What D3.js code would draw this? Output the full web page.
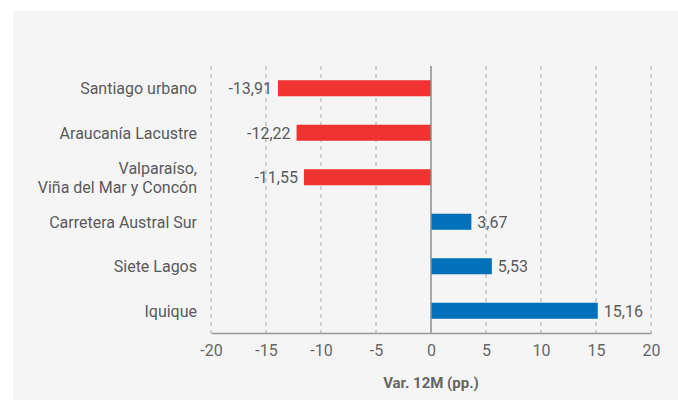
<!DOCTYPE html>
<html>
<head>
<meta charset="utf-8">
<script src="https://cdn.jsdelivr.net/npm/d3@7"></script>
<style>
  html, body { margin: 0; padding: 0; background: #ffffff; }
  svg { display: block; }
  text { font-family: Roboto, "Open Sans", sans-serif; }
</style>
</head>
<body>
<div id="chart"></div>
<script>
const categories = ["Santiago urbano", "Araucanía Lacustre", "Valparaíso,\nViña del Mar y Concón", "Carretera Austral Sur", "Siete Lagos", "Iquique"];
const values = [-13.91, -12.22, -11.55, 3.67, 5.53, 15.16];
const xTicks = [-20, -15, -10, -5, 0, 5, 10, 15, 20];
const axisTitle = "Var. 12M (pp.)";

const W = 678, H = 400;
const margin = { left: 211, right: 27, top: 66, bottom: 67 };

const svg = d3.select("#chart").append("svg").attr("width", W).attr("height", H);

svg.append("rect").attr("x", 13).attr("y", 11).attr("width", W - 13).attr("height", H - 11).attr("fill", "#f5f5f5");

const x = d3.scaleLinear().domain([-20, 20]).range([margin.left, W - margin.right]);
const y = d3.scaleBand().domain(categories).range([margin.top, H - margin.bottom]).paddingInner(0.64).paddingOuter(0.32);

// gridlines
svg.append("g").selectAll("line").data(xTicks.filter(d => d !== 0)).join("line")
  .attr("x1", d => x(d)).attr("x2", d => x(d))
  .attr("y1", margin.top).attr("y2", H - margin.bottom)
  .attr("stroke", "#a8a8a8").attr("stroke-width", 1).attr("stroke-dasharray", "4,4");

// bars
svg.append("g").selectAll("rect").data(values).join("rect")
  .attr("x", d => x(Math.min(0, d)))
  .attr("width", d => Math.abs(x(d) - x(0)))
  .attr("y", (d, i) => y(categories[i]))
  .attr("height", y.bandwidth())
  .attr("fill", d => d < 0 ? "#ee3330" : "#0070ba");

// zero line
svg.append("line").attr("x1", x(0)).attr("x2", x(0)).attr("y1", margin.top).attr("y2", H - margin.bottom)
  .attr("stroke", "#8c8c8c").attr("stroke-width", 1.5);

// value labels
const fmt = v => d3.format(".2f")(v).replace(".", ",").replace("−", "-");
svg.append("g").selectAll("text").data(values).join("text")
  .attr("x", d => d < 0 ? x(d) - 6 : x(d) + 6)
  .attr("y", (d, i) => y(categories[i]) + y.bandwidth() / 2)
  .attr("dy", "0.36em")
  .attr("text-anchor", d => d < 0 ? "end" : "start")
  .attr("font-size", 16).attr("fill", "#5a5a5a")
  .text(d => fmt(d));

// category labels
const catG = svg.append("g");
categories.forEach((c, i) => {
  const lines = c.split("\n");
  const cy = y(c) + y.bandwidth() / 2;
  const t = catG.append("text")
    .attr("x", 197).attr("text-anchor", "end")
    .attr("font-size", 16).attr("fill", "#5a5a5a");
  lines.forEach((l, j) => {
    t.append("tspan").attr("x", 197)
      .attr("y", cy + (j - (lines.length - 1) / 2) * 19)
      .attr("dy", "0.36em").text(l);
  });
});

// x axis
const xAxis = d3.axisBottom(x).tickValues(xTicks).tickSize(0).tickPadding(12).tickFormat(d => String(d).replace("−", "-"));
const gx = svg.append("g").attr("transform", `translate(0,${H - margin.bottom})`).call(xAxis);
gx.select(".domain").attr("stroke", "#999").attr("stroke-width", 1.5);
gx.selectAll("text").attr("font-size", 16).attr("fill", "#666").attr("font-family", "Roboto, sans-serif");

svg.append("text").attr("x", (x(-20) + x(20)) / 2).attr("y", 388)
  .attr("text-anchor", "middle").attr("font-size", 15).attr("font-weight", "bold")
  .attr("fill", "#666").text(axisTitle);
</script>
</body>
</html>
